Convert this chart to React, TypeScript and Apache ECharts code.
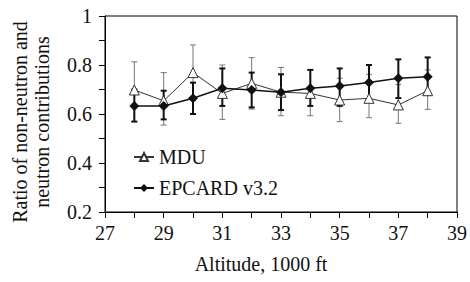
import React, { useEffect, useRef } from "react";
import * as echarts from "echarts";

const altitudes = [28, 29, 30, 31, 32, 33, 34, 35, 36, 37, 38];
const mduValues = [0.698, 0.654, 0.769, 0.684, 0.725, 0.689, 0.684, 0.657, 0.664, 0.637, 0.695];
const mduLow = [0.569, 0.555, 0.655, 0.578, 0.62, 0.593, 0.593, 0.569, 0.585, 0.562, 0.619];
const mduHigh = [0.813, 0.769, 0.882, 0.8, 0.83, 0.79, 0.78, 0.746, 0.762, 0.72, 0.78];
const epcValues = [0.633, 0.633, 0.664, 0.705, 0.698, 0.689, 0.705, 0.714, 0.729, 0.746, 0.752];
const epcLow = [0.569, 0.578, 0.6, 0.633, 0.627, 0.616, 0.633, 0.633, 0.653, 0.665, 0.678];
const epcHigh = [0.7, 0.695, 0.728, 0.786, 0.769, 0.762, 0.78, 0.786, 0.8, 0.823, 0.831];

const FONT = "'Liberation Serif', 'Times New Roman', serif";

function errorSeries(name: string, low: number[], high: number[], color: string, width: number, z: number) {
  return {
    name,
    type: "custom",
    z,
    silent: true,
    data: altitudes.map((a, i) => [a, low[i], high[i]]),
    encode: { x: 0, y: [1, 2] },
    renderItem: (params: any, api: any) => {
      const x = api.value(0);
      const lo = api.coord([x, api.value(1)]);
      const hi = api.coord([x, api.value(2)]);
      const cw = 3;
      const style = { stroke: color, lineWidth: width };
      return {
        type: "group",
        children: [
          { type: "line", shape: { x1: lo[0], y1: lo[1], x2: hi[0], y2: hi[1] }, style },
          { type: "line", shape: { x1: lo[0] - cw, y1: lo[1], x2: lo[0] + cw, y2: lo[1] }, style },
          { type: "line", shape: { x1: hi[0] - cw, y1: hi[1], x2: hi[0] + cw, y2: hi[1] }, style },
        ],
      };
    },
  };
}

export default function App() {
  const ref = useRef<HTMLDivElement>(null);
  useEffect(() => {
    if (!ref.current) return;
    const chart = echarts.init(ref.current, null, { renderer: "svg" });
    chart.setOption({
      animation: false,
      backgroundColor: "#fff",
      textStyle: { fontFamily: FONT },
      grid: { left: 105, right: 12, top: 16, bottom: 70, show: true, borderColor: "#000", borderWidth: 1 },
      legend: {
        data: ["MDU", "EPCARD v3.2"],
        orient: "vertical",
        left: 128,
        top: 142,
        itemGap: 11,
        itemWidth: 20,
        itemHeight: 10,
        textStyle: { fontFamily: FONT, fontSize: 20, color: "#111" },
      },
      xAxis: {
        type: "value",
        min: 27,
        max: 39,
        interval: 2,
        name: "Altitude, 1000 ft",
        nameLocation: "middle",
        nameGap: 42,
        nameTextStyle: { fontFamily: FONT, fontSize: 20, color: "#111", padding: [0, 40, 0, 0] },
        axisLine: { lineStyle: { color: "#000", width: 1 } },
        axisTick: { length: 6, lineStyle: { color: "#000" } },
        minorTick: { show: true, splitNumber: 2, length: 6, lineStyle: { color: "#000" } },
        axisLabel: { fontFamily: FONT, fontSize: 20, color: "#111", margin: 11 },
        splitLine: { show: false },
      },
      yAxis: {
        type: "value",
        min: 0.2,
        max: 1,
        interval: 0.2,
        name: "Ratio of non-neutron and\nneutron contributions",
        nameLocation: "middle",
        nameGap: 52,
        nameRotate: 90,
        nameTextStyle: { fontFamily: FONT, fontSize: 20, color: "#111", lineHeight: 22, padding: [0, 16, 0, 0] },
        axisLine: { show: true, lineStyle: { color: "#000", width: 1 } },
        axisTick: { show: true, length: 6, lineStyle: { color: "#000" } },
        minorTick: { show: true, splitNumber: 2, length: 6, lineStyle: { color: "#000" } },
        axisLabel: { fontFamily: FONT, fontSize: 20, color: "#111", margin: 13 },
        splitLine: { show: false },
      },
      series: [
        errorSeries("MDU err", mduLow, mduHigh, "#777", 1, 2),
        errorSeries("EPCARD err", epcLow, epcHigh, "#111", 2, 3),
        {
          name: "MDU",
          type: "line",
          z: 4,
          data: altitudes.map((a, i) => [a, mduValues[i]]),
          symbol: "triangle",
          symbolSize: 10,
          itemStyle: { color: "#fff", borderColor: "#333", borderWidth: 1 },
          lineStyle: { color: "#333", width: 1 },
        },
        {
          name: "EPCARD v3.2",
          type: "line",
          z: 5,
          data: altitudes.map((a, i) => [a, epcValues[i]]),
          symbol: "diamond",
          symbolSize: 10,
          itemStyle: { color: "#111", borderColor: "#111", borderWidth: 0 },
          lineStyle: { color: "#111", width: 1.5 },
        },
      ],
    });
    return () => chart.dispose();
  }, []);
  return <div ref={ref} style={{ width: 470, height: 282, position: "absolute", left: 0, top: 0 }} />;
}
